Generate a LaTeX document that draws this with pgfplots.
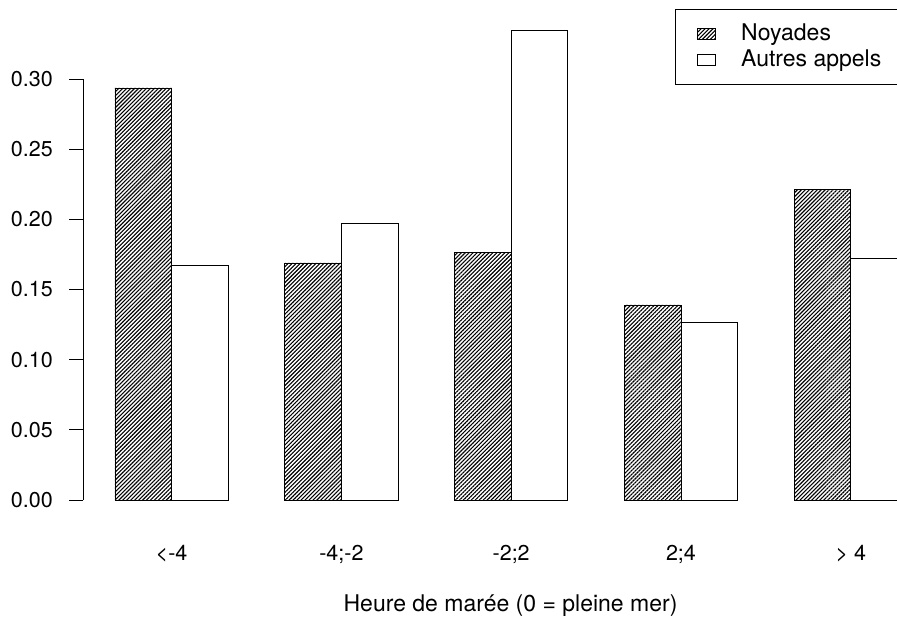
\documentclass[border=0pt]{standalone}
\usepackage{fontspec}
\setmainfont{TeX Gyre Heros}
\usepackage{pgfplots}
\pgfplotsset{compat=1.18}
\usetikzlibrary{patterns.meta}
\newcommand{\tickfont}{\fontsize{21.5}{25}\selectfont}
\newcommand{\labfont}{\fontsize{23}{27}\selectfont}
\begin{document}
\tickfont
\begin{tikzpicture}
\begin{axis}[
  name=ax,
  scale only axis, width=814pt, height=500pt,
  xmin=0.435, xmax=14.817, ymin=0, ymax=0.3563,
  axis line style={draw=none},
  clip=false,
  xtick={2,5,8,11,14},
  xticklabels={{<-4},{-4;-2},{-2;2},{2;4},{> 4}},
  x tick style={draw=none},
  ytick={0,0.05,0.10,0.15,0.20,0.25,0.30},
  ytick pos=left, xtick pos=bottom,
  tick align=outside,
  major tick length=14pt,
  y tick style={black, line width=0.8pt},
  /pgf/number format/assume math mode=true,
  yticklabel style={/pgf/number format/fixed, /pgf/number format/fixed zerofill, /pgf/number format/precision=2, anchor=east, inner sep=0pt, xshift=-16pt},
  xticklabel style={anchor=base, inner sep=0pt, yshift=-46.5pt},
  tick label style={font=\tickfont},
  xlabel={Heure de marée (0 = pleine mer)},
  xlabel style={at={(axis description cs:0.5252,-0.222)}, anchor=base, inner sep=0pt, font=\labfont},
  legend style={at={(axis cs:10.894,0.3499)}, anchor=north west, draw=black, line width=0.8pt,
    font=\labfont, inner xsep=22pt, inner ysep=14.8pt, row sep=5.7pt,
    column sep=25pt, nodes={inner sep=0pt}},
  legend cell align=left,
]
\addplot[ybar, bar width=1, bar shift=0pt, draw=black, line width=0.8pt,
  pattern={Lines[angle=45, distance=2.8pt, line width=1.1pt]},
  legend image code/.code={\draw[black, line width=0.8pt, pattern={Lines[angle=45, distance=2.8pt, line width=1.1pt]}] (0pt,-5.5pt) rectangle (18pt,5.5pt);}]
  coordinates {(1.5,0.2936) (4.5,0.1689) (7.5,0.1767) (10.5,0.1390) (13.5,0.2216)};
\addlegendentry{Noyades}
\addplot[ybar, bar width=1, bar shift=0pt, draw=black, line width=0.8pt, fill=white,
  legend image code/.code={\draw[black, line width=0.8pt, fill=white] (0pt,-5.5pt) rectangle (18pt,5.5pt);}]
  coordinates {(2.5,0.1675) (5.5,0.1974) (8.5,0.3349) (11.5,0.1268) (14.5,0.1724)};
\addlegendentry{Autres appels}
\draw[black, line width=0.8pt] (axis cs:0.435,0) -- (axis cs:0.435,0.30);
\end{axis}
\pgfresetboundingbox
\useasboundingbox ([shift={(-83pt,-119pt)}]ax.south west) rectangle ([shift={(814pt,500pt)}]ax.south west);
\end{tikzpicture}
\end{document}
